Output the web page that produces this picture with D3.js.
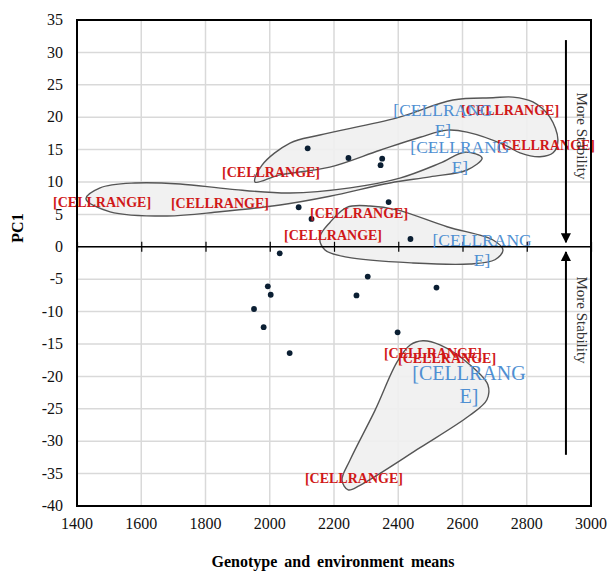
<!DOCTYPE html>
<html>
<head>
<meta charset="utf-8">
<script src="https://cdn.jsdelivr.net/npm/d3@7"></script>
<style>
  body { margin: 0; background: #fff; }
  text { font-family: "Liberation Serif", "Times New Roman", serif; }
</style>
</head>
<body>
<svg id="chart"></svg>
<script>
const vWidth = 609
const vHeight = 571

// black points: genotype / environment means vs PC1
const pointX = [2118, 2245, 2350, 2345, 2370, 2090, 2130, 2438, 2031,
  1994, 2003, 1951, 1981, 2062, 2305, 2270, 2519, 2398]
const pointY = [15.2, 13.7, 13.6, 12.6, 6.9, 6.1, 4.3, 1.2, -1.0,
  -6.1, -7.4, -9.6, -12.4, -16.4, -4.6, -7.5, -6.3, -13.2]

// red (bold) data labels
const redLabelX = [1478, 1845, 2004, 2748, 2860, 2278, 2197, 2508, 2552, 2262]
const redLabelY = [6.9, 6.75, 11.5, 21.1, 15.6, 5.1, 1.8, -16.5, -17.2, -35.7]

// blue data labels (wrapped)
const blueLabelX = [2539, 2592, 2661, 2620]
const blueLabelY = [21.1, 15.4, 1.05, -19.5]

// outlines of the grouped regions
const hullA = [[1428, 7.4], [1472, 9.1], [1580, 9.85], [1721, 9.7], [1876, 8.9], [2063, 8.3],
  [2250, 9.1], [2405, 10.6], [2530, 12.9], [2608, 14.6], [2661, 13.7], [2614, 11.85],
  [2499, 10.8], [2374, 9.85], [2187, 7.8], [2032, 6.45], [1845, 5.4], [1680, 4.75], [1503, 5.4]]
const hullB = [[1954, 10.0], [1976, 12.6], [2063, 16.0], [2156, 17.25], [2396, 19.9], [2570, 22.65],
  [2695, 23.0], [2757, 23.1], [2819, 22.35], [2872, 20.0], [2897, 16.5], [2882, 14.5],
  [2841, 13.9], [2779, 14.5], [2732, 15.7], [2614, 17.7], [2552, 18.0], [2468, 16.9],
  [2343, 14.9], [2187, 12.3], [2032, 11.1]]
const hullC = [[2156, 1.5], [2188, 3.8], [2240, 6.1], [2312, 6.3], [2396, 5.7], [2552, 3.1],
  [2695, 1.05], [2726, -0.5], [2701, -2.0], [2623, -2.65], [2446, -2.5], [2240, -1.6], [2172, -0.5]]
const hullD = [[2477, -14.5], [2530, -15.15], [2623, -18.2], [2679, -21.3], [2676, -23.6],
  [2623, -26.0], [2468, -31.0], [2281, -36.8], [2244, -37.5], [2225, -36.0], [2250, -32.9],
  [2328, -25.2], [2396, -17.8], [2437, -15.15]]

const xTicks = [1400, 1600, 1800, 2000, 2200, 2400, 2600, 2800, 3000]
const yTicks = [35, 30, 25, 20, 15, 10, 5, 0, -5, -10, -15, -20, -25, -30, -35, -40]

// stability arrows: x position, [from, to] in PC1 units
const arrowX = 2922
const arrowDown = [31.9, 0.7]
const arrowUp = [-32.1, -0.8]

const svg = d3.select('#chart')
  .attr('width', vWidth)
  .attr('height', vHeight)

const x = d3.scaleLinear().domain([1400, 3000]).range([77, 591])
const y = d3.scaleLinear().domain([-40, 35]).range([506, 20])

svg.append('defs').append('marker')
  .attr('id', 'head')
  .attr('viewBox', '0 0 10 10')
  .attr('refX', 9)
  .attr('refY', 5)
  .attr('markerWidth', 5)
  .attr('markerHeight', 5)
  .attr('orient', 'auto')
  .append('path')
  .attr('d', 'M0,0L10,5L0,10z')
  .attr('fill', '#000')

// grid
const grid = svg.append('g').attr('stroke', '#d9d9d9').attr('stroke-width', 1.5)
grid.selectAll('line.gx')
  .data(xTicks.slice(1, -1))
  .enter().append('line')
  .attr('x1', (d) => x(d)).attr('x2', (d) => x(d))
  .attr('y1', y(35)).attr('y2', y(-40))
grid.selectAll('line.gy')
  .data(yTicks.slice(1, -1))
  .enter().append('line')
  .attr('x1', x(1400)).attr('x2', x(3000))
  .attr('y1', (d) => y(d)).attr('y2', (d) => y(d))

// regions
const hullLine = d3.line()
  .x((d) => x(d[0]))
  .y((d) => y(d[1]))
  .curve(d3.curveCatmullRomClosed.alpha(0.5))

svg.selectAll('path.hull')
  .data([hullA, hullB, hullC, hullD])
  .enter().append('path')
  .attr('class', 'hull')
  .attr('d', hullLine)
  .attr('fill', '#f0f0f0')
  .attr('fill-opacity', 0.9)
  .attr('stroke', '#555')
  .attr('stroke-width', 1.4)

// zero axis with ticks
const zeroAxis = d3.axisBottom(x)
  .tickValues(xTicks)
  .tickSizeInner(10)
  .tickSizeOuter(0)
  .tickFormat('')
svg.append('g')
  .attr('transform', `translate(0,${y(0) - 5})`)
  .call(zeroAxis)
  .call((g) => g.select('.domain').remove())
  .selectAll('line').attr('stroke', '#000').attr('stroke-width', 1.2)
svg.append('line')
  .attr('x1', x(1400)).attr('x2', x(3000))
  .attr('y1', y(0)).attr('y2', y(0))
  .attr('stroke', '#000')
  .attr('stroke-width', 1.4)

// points
svg.selectAll('circle.pt')
  .data(pointX.map((v, i) => [v, pointY[i]]))
  .enter().append('circle')
  .attr('class', 'pt')
  .attr('cx', (d) => x(d[0]))
  .attr('cy', (d) => y(d[1]))
  .attr('r', 2.9)
  .attr('fill', '#0b1f33')

// labels
svg.selectAll('text.red')
  .data(redLabelX.map((v, i) => [v, redLabelY[i]]))
  .enter().append('text')
  .attr('class', 'red')
  .attr('x', (d) => x(d[0]))
  .attr('y', (d) => y(d[1]))
  .attr('dy', '0.33em')
  .attr('text-anchor', 'middle')
  .attr('font-size', '14px')
  .attr('font-weight', 'bold')
  .attr('fill', '#d01818')
  .text('[CELLRANGE]')

const blue = svg.selectAll('text.blue')
  .data(blueLabelX.map((v, i) => [v, blueLabelY[i]]))
  .enter().append('text')
  .attr('class', 'blue')
  .attr('x', (d) => x(d[0]))
  .attr('y', (d) => y(d[1]))
  .attr('dy', '0.33em')
  .attr('text-anchor', 'middle')
  .attr('font-size', (_, i) => i === 3 ? '20px' : '17.5px')
  .attr('fill', '#4f8fd2')
blue.append('tspan').text('[CELLRANG')
blue.append('tspan')
  .attr('x', (d) => x(d[0]))
  .attr('dy', '1.15em')
  .text('E]')

// stability arrows
svg.append('line')
  .attr('x1', x(arrowX)).attr('x2', x(arrowX))
  .attr('y1', y(arrowDown[0])).attr('y2', y(arrowDown[1]))
  .attr('stroke', '#000').attr('stroke-width', 2)
  .attr('marker-end', 'url(#head)')
svg.append('line')
  .attr('x1', x(arrowX)).attr('x2', x(arrowX))
  .attr('y1', y(arrowUp[0])).attr('y2', y(arrowUp[1]))
  .attr('stroke', '#000').attr('stroke-width', 2)
  .attr('marker-end', 'url(#head)')

svg.selectAll('text.stab')
  .data([17.1, -11.3])
  .enter().append('text')
  .attr('class', 'stab')
  .attr('transform', (d) => `translate(${x(2972)},${y(d)}) rotate(90)`)
  .attr('text-anchor', 'middle')
  .attr('dy', '0.33em')
  .attr('font-size', '15px')
  .attr('fill', '#333')
  .text('More Stability')

// frame
svg.append('rect')
  .attr('x', x(1400)).attr('y', y(35))
  .attr('width', x(3000) - x(1400))
  .attr('height', y(-40) - y(35))
  .attr('fill', 'none')
  .attr('stroke', '#000')
  .attr('stroke-width', 2)

// tick labels
svg.append('g')
  .selectAll('text')
  .data(yTicks)
  .enter().append('text')
  .attr('x', 63)
  .attr('y', (d) => y(d))
  .attr('dy', '0.33em')
  .attr('text-anchor', 'end')
  .attr('font-size', '16px')
  .attr('fill', '#111')
  .text((d) => d)

svg.append('g')
  .selectAll('text')
  .data(xTicks)
  .enter().append('text')
  .attr('x', (d) => x(d))
  .attr('y', 529)
  .attr('text-anchor', 'middle')
  .attr('font-size', '16px')
  .attr('fill', '#111')
  .text((d) => d)

// axis titles
svg.append('text')
  .attr('x', 333)
  .attr('y', 567)
  .attr('text-anchor', 'middle')
  .attr('font-size', '16px')
  .attr('font-weight', 'bold')
  .attr('word-spacing', '3px')
  .text('Genotype and environment means')

svg.append('text')
  .attr('transform', 'translate(23,228) rotate(-90)')
  .attr('text-anchor', 'middle')
  .attr('font-size', '16px')
  .attr('font-weight', 'bold')
  .text('PC1')
</script>
</body>
</html>
